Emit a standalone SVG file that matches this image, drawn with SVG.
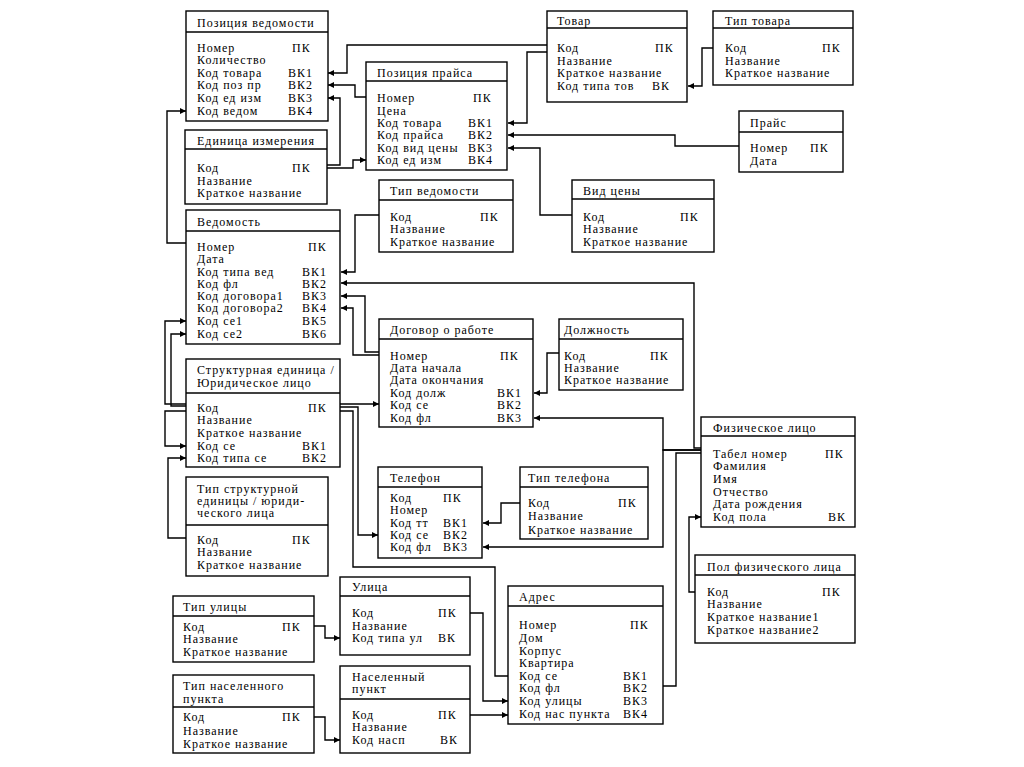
<svg xmlns="http://www.w3.org/2000/svg" width="1024" height="767" viewBox="0 0 1024 767">
<defs>
<style>
rect.b{fill:#fff;stroke:#000;stroke-width:1.4}
line.h{stroke:#000;stroke-width:1.4}
text{font-family:"Liberation Serif","Times New Roman",serif;font-size:12px;letter-spacing:1px;fill:#000}
path.c{fill:none;stroke:#000;stroke-width:1.4}
path.a{marker-end:url(#ar)}
</style>
<marker id="ar" viewBox="0 0 10 10" refX="10" refY="5" markerWidth="8" markerHeight="6" markerUnits="userSpaceOnUse" orient="auto"><path d="M0,0 L10,5 L0,10 z" fill="#000"/></marker>
</defs>
<rect width="1024" height="767" fill="#fff"/>
<g id="connectors">
<path class="c a" d="M547,45 H347 V73 H328"/>
<path class="c a" d="M547,52 H527 V123 H508"/>
<path class="c a" d="M366,97 H355 V85 H328"/>
<path class="c a" d="M327,165 H340 V98 H328"/>
<path class="c a" d="M327,168 H353 V160 H366"/>
<path class="c a" d="M713,48 H702 V86 H688"/>
<path class="c a" d="M739,146 H675 V135 H508"/>
<path class="c a" d="M572,215 H540 V148 H508"/>
<path class="c a" d="M186,243 H167 V111 H186"/>
<path class="c a" d="M379,215 H355 V272 H341"/>
<path class="c a" d="M701,448 H694 V283 H341"/>
<path class="c a" d="M379,352 H365 V296 H341"/>
<path class="c a" d="M379,355 H353 V308 H341"/>
<path class="c a" d="M186,404 H165 V321 H186"/>
<path class="c a" d="M186,406 H171 V334 H186"/>
<path class="c a" d="M186,411 H165 V446 H186"/>
<path class="c a" d="M186,538 H168 V458 H186"/>
<path class="c a" d="M340,404 H379"/>
<path class="c a" d="M340,407 H358 V535 H378"/>
<path class="c" d="M340,411 H353 V567 H495 V676 H508"/>
<path class="c a" d="M559,353 H547 V393 H534"/>
<path class="c a" d="M701,450 H663 V418 H534"/>
<path class="c a" d="M701,450 H663 V547 H483"/>
<path class="c a" d="M520,503 H501 V523 H483"/>
<path class="c" d="M663,686 H676 V453 H701"/>
<path class="c a" d="M695,592 H689 V517 H701"/>
<path class="c a" d="M314,626 H325 V638 H340"/>
<path class="c a" d="M470,613 H483 V701 H508"/>
<path class="c a" d="M314,717 H325 V740 H340"/>
<path class="c a" d="M470,715 H508"/>
</g>
<g id="poz_ved">
<rect class="b" x="186" y="11" width="142" height="110"/><line class="h" x1="186" y1="32" x2="328" y2="32"/>
<text x="197" y="27">Позиция ведомости</text>
<text x="197" y="52">Номер</text><text x="292" y="52">ПК</text>
<text x="197" y="64">Количество</text>
<text x="197" y="77">Код товара</text><text x="288" y="77">ВК1</text>
<text x="197" y="89">Код поз пр</text><text x="288" y="89">ВК2</text>
<text x="197" y="102">Код ед изм</text><text x="288" y="102">ВК3</text>
<text x="197" y="115">Код ведом</text><text x="288" y="115">ВК4</text>
</g>
<g id="ed_izm">
<rect class="b" x="185" y="130" width="142" height="74"/><line class="h" x1="185" y1="149" x2="327" y2="149"/>
<text x="197" y="145">Единица измерения</text>
<text x="197" y="172">Код</text><text x="292" y="172">ПК</text>
<text x="197" y="185">Название</text>
<text x="197" y="197">Краткое название</text>
</g>
<g id="poz_pr">
<rect class="b" x="366" y="62" width="141" height="108"/><line class="h" x1="366" y1="81" x2="507" y2="81"/>
<text x="377" y="77">Позиция прайса</text>
<text x="377" y="102">Номер</text><text x="473" y="102">ПК</text>
<text x="377" y="115">Цена</text>
<text x="377" y="127">Код товара</text><text x="468" y="127">ВК1</text>
<text x="377" y="139">Код прайса</text><text x="468" y="139">ВК2</text>
<text x="377" y="152">Код вид цены</text><text x="468" y="152">ВК3</text>
<text x="377" y="164">Код ед изм</text><text x="468" y="164">ВК4</text>
</g>
<g id="tovar">
<rect class="b" x="547" y="11" width="140" height="91"/><line class="h" x1="547" y1="28" x2="687" y2="28"/>
<text x="557" y="25">Товар</text>
<text x="557" y="52">Код</text><text x="655" y="52">ПК</text>
<text x="557" y="65">Название</text>
<text x="557" y="77">Краткое название</text>
<text x="557" y="90">Код типа тов</text><text x="652" y="90">ВК</text>
</g>
<g id="tip_tovara">
<rect class="b" x="713" y="11" width="140" height="74"/><line class="h" x1="713" y1="28" x2="853" y2="28"/>
<text x="725" y="25">Тип товара</text>
<text x="725" y="52">Код</text><text x="822" y="52">ПК</text>
<text x="725" y="65">Название</text>
<text x="725" y="77">Краткое название</text>
</g>
<g id="prais">
<rect class="b" x="739" y="111" width="104" height="61"/><line class="h" x1="739" y1="132" x2="843" y2="132"/>
<text x="750" y="127">Прайс</text>
<text x="750" y="152">Номер</text><text x="810" y="152">ПК</text>
<text x="750" y="165">Дата</text>
</g>
<g id="vid_ceny">
<rect class="b" x="572" y="180" width="142" height="72"/><line class="h" x1="572" y1="199" x2="714" y2="199"/>
<text x="583" y="195">Вид цены</text>
<text x="583" y="221">Код</text><text x="680" y="221">ПК</text>
<text x="583" y="233">Название</text>
<text x="583" y="246">Краткое название</text>
</g>
<g id="vedomost">
<rect class="b" x="186" y="210" width="154" height="134"/><line class="h" x1="186" y1="231" x2="340" y2="231"/>
<text x="197" y="226">Ведомость</text>
<text x="197" y="251">Номер</text><text x="308" y="251">ПК</text>
<text x="197" y="263">Дата</text>
<text x="197" y="276">Код типа вед</text><text x="302" y="276">ВК1</text>
<text x="197" y="288">Код фл</text><text x="302" y="288">ВК2</text>
<text x="197" y="300">Код договора1</text><text x="302" y="300">ВК3</text>
<text x="197" y="312">Код договора2</text><text x="302" y="312">ВК4</text>
<text x="197" y="325">Код се1</text><text x="302" y="325">ВК5</text>
<text x="197" y="338">Код се2</text><text x="302" y="338">ВК6</text>
</g>
<g id="tip_ved">
<rect class="b" x="379" y="180" width="134" height="72"/><line class="h" x1="379" y1="200" x2="513" y2="200"/>
<text x="390" y="195">Тип ведомости</text>
<text x="390" y="221">Код</text><text x="480" y="221">ПК</text>
<text x="390" y="233">Название</text>
<text x="390" y="246">Краткое название</text>
</g>
<g id="dogovor">
<rect class="b" x="379" y="319" width="154" height="108"/><line class="h" x1="379" y1="339" x2="533" y2="339"/>
<text x="390" y="334">Договор о работе</text>
<text x="390" y="360">Номер</text><text x="500" y="360">ПК</text>
<text x="390" y="372">Дата начала</text>
<text x="390" y="384">Дата окончания</text>
<text x="390" y="397">Код долж</text><text x="497" y="397">ВК1</text>
<text x="390" y="409">Код се</text><text x="497" y="409">ВК2</text>
<text x="390" y="422">Код фл</text><text x="497" y="422">ВК3</text>
</g>
<g id="dolzhnost">
<rect class="b" x="559" y="319" width="124" height="71"/><line class="h" x1="559" y1="339" x2="683" y2="339"/>
<text x="564" y="334">Должность</text>
<text x="564" y="360">Код</text><text x="650" y="360">ПК</text>
<text x="564" y="372">Название</text>
<text x="564" y="384">Краткое название</text>
</g>
<g id="str_ed">
<rect class="b" x="186" y="359" width="154" height="108"/><line class="h" x1="186" y1="393" x2="340" y2="393"/>
<text x="197" y="374">Структурная единица /</text>
<text x="197" y="387">Юридическое лицо</text>
<text x="197" y="412">Код</text><text x="308" y="412">ПК</text>
<text x="197" y="424">Название</text>
<text x="197" y="437">Краткое название</text>
<text x="197" y="450">Код се</text><text x="302" y="450">ВК1</text>
<text x="197" y="462">Код типа се</text><text x="302" y="462">ВК2</text>
</g>
<g id="tip_str_ed">
<rect class="b" x="186" y="477" width="142" height="99"/><line class="h" x1="186" y1="525" x2="328" y2="525"/>
<text x="197" y="493">Тип структурной</text>
<text x="197" y="505">единицы / юриди-</text>
<text x="197" y="517">ческого лица</text>
<text x="197" y="544">Код</text><text x="292" y="544">ПК</text>
<text x="197" y="556">Название</text>
<text x="197" y="569">Краткое название</text>
</g>
<g id="telefon">
<rect class="b" x="378" y="467" width="104" height="91"/><line class="h" x1="378" y1="487" x2="482" y2="487"/>
<text x="390" y="482">Телефон</text>
<text x="390" y="502">Код</text><text x="443" y="502">ПК</text>
<text x="390" y="514">Номер</text>
<text x="390" y="527">Код тт</text><text x="443" y="527">ВК1</text>
<text x="390" y="539">Код се</text><text x="443" y="539">ВК2</text>
<text x="390" y="551">Код фл</text><text x="443" y="551">ВК3</text>
</g>
<g id="tip_tel">
<rect class="b" x="520" y="467" width="128" height="72"/><line class="h" x1="520" y1="487" x2="648" y2="487"/>
<text x="528" y="482">Тип телефона</text>
<text x="528" y="507">Код</text><text x="618" y="507">ПК</text>
<text x="528" y="520">Название</text>
<text x="528" y="534">Краткое название</text>
</g>
<g id="fiz_lico">
<rect class="b" x="701" y="417" width="154" height="110"/><line class="h" x1="701" y1="436" x2="855" y2="436"/>
<text x="713" y="432">Физическое лицо</text>
<text x="713" y="458">Табел номер</text><text x="825" y="458">ПК</text>
<text x="713" y="470">Фамилия</text>
<text x="713" y="483">Имя</text>
<text x="713" y="496">Отчество</text>
<text x="713" y="508">Дата рождения</text>
<text x="713" y="521">Код пола</text><text x="828" y="521">ВК</text>
</g>
<g id="pol">
<rect class="b" x="695" y="555" width="160" height="88"/><line class="h" x1="695" y1="575" x2="855" y2="575"/>
<text x="707" y="571">Пол физического лица</text>
<text x="707" y="596">Код</text><text x="822" y="596">ПК</text>
<text x="707" y="608">Название</text>
<text x="707" y="621">Краткое название1</text>
<text x="707" y="634">Краткое название2</text>
</g>
<g id="tip_ulicy">
<rect class="b" x="173" y="596" width="141" height="66"/><line class="h" x1="173" y1="616" x2="314" y2="616"/>
<text x="183" y="611">Тип улицы</text>
<text x="183" y="631">Код</text><text x="282" y="631">ПК</text>
<text x="183" y="643">Название</text>
<text x="183" y="656">Краткое название</text>
</g>
<g id="ulica">
<rect class="b" x="340" y="577" width="130" height="78"/><line class="h" x1="340" y1="596" x2="470" y2="596"/>
<text x="352" y="591">Улица</text>
<text x="352" y="617">Код</text><text x="438" y="617">ПК</text>
<text x="352" y="630">Название</text>
<text x="352" y="642">Код типа ул</text><text x="438" y="642">ВК</text>
</g>
<g id="tip_nas">
<rect class="b" x="173" y="675" width="141" height="78"/><line class="h" x1="173" y1="707" x2="314" y2="707"/>
<text x="183" y="690">Тип населенного</text>
<text x="183" y="703">пункта</text>
<text x="183" y="721">Код</text><text x="282" y="721">ПК</text>
<text x="183" y="735">Название</text>
<text x="183" y="748">Краткое название</text>
</g>
<g id="nas_punkt">
<rect class="b" x="340" y="666" width="130" height="87"/><line class="h" x1="340" y1="699" x2="470" y2="699"/>
<text x="352" y="681">Населенный</text>
<text x="352" y="693">пункт</text>
<text x="352" y="719">Код</text><text x="438" y="719">ПК</text>
<text x="352" y="731">Название</text>
<text x="352" y="744">Код насп</text><text x="440" y="744">ВК</text>
</g>
<g id="adres">
<rect class="b" x="508" y="586" width="155" height="138"/><line class="h" x1="508" y1="606" x2="663" y2="606"/>
<text x="519" y="601">Адрес</text>
<text x="519" y="629">Номер</text><text x="630" y="629">ПК</text>
<text x="519" y="642">Дом</text>
<text x="519" y="655">Корпус</text>
<text x="519" y="667">Квартира</text>
<text x="519" y="680">Код се</text><text x="623" y="680">ВК1</text>
<text x="519" y="692">Код фл</text><text x="623" y="692">ВК2</text>
<text x="519" y="705">Код улицы</text><text x="623" y="705">ВК3</text>
<text x="519" y="718">Код нас пункта</text><text x="623" y="718">ВК4</text>
</g>
</svg>
